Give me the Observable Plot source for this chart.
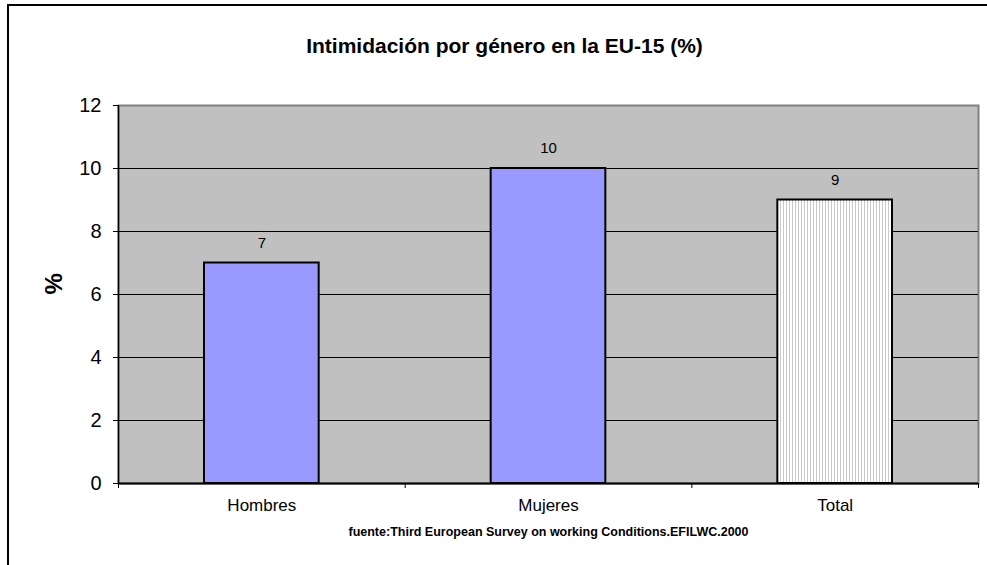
<!DOCTYPE html>
<html>
<head>
<meta charset="utf-8">
<script src="https://cdn.jsdelivr.net/npm/d3@7"></script>
<script src="https://cdn.jsdelivr.net/npm/@observablehq/plot@0.6"></script>
<style>
  html, body { margin: 0; padding: 0; background: white; }
  #wrap { position: relative; width: 987px; height: 565px; overflow: hidden; }
  #wrap svg.plot { position: absolute; left: 0; top: 0; }
  .bt { position: absolute; left: 7px; top: 4px; width: 980px; height: 2px; background: #000; }
  .bl { position: absolute; left: 7px; top: 4px; width: 2px; height: 561px; background: #000; }
</style>
</head>
<body>
<svg width="0" height="0" style="position:absolute">
  <defs>
    <pattern id="stripes" patternUnits="userSpaceOnUse" width="3" height="10">
      <rect width="3" height="10" fill="#ffffff"></rect>
      <rect x="0" width="1" height="10" fill="#c8c8c8"></rect>
    </pattern>
  </defs>
</svg>
<div id="wrap"><div class="bt"></div><div class="bl"></div></div>
<script>
const categories = ["Hombres", "Mujeres", "Total"];
const values = [7, 10, 9];
const yTicks = [0, 2, 4, 6, 8, 10, 12];
const title = "Intimidación por género en la EU-15 (%)";
const yLabel = "%";
const source = "fuente:Third European Survey on working Conditions.EFILWC.2000";

const data = categories.map((c, i) => ({cat: c, i, value: values[i]}));
const boundaries = d3.range(categories.length + 1);

const chart = Plot.plot({
  width: 987,
  height: 565,
  marginLeft: 118,
  marginRight: 9,
  marginTop: 105,
  marginBottom: 82,
  style: {fontFamily: "'Liberation Sans', Arial, sans-serif", background: "transparent", color: "black"},
  x: {type: "linear", domain: [0, categories.length], axis: null},
  y: {domain: [0, 12], axis: null},
  marks: [
    Plot.frame({fill: "#c0c0c0", stroke: "#808080", strokeWidth: 2}),
    Plot.ruleY(yTicks.filter(t => t > 0 && t < 12), {stroke: "black", strokeWidth: 1}),
    Plot.rectY(data.filter(d => d.cat !== "Total"), {x1: "i", x2: d => d.i + 1, y: "value", fill: "#9999ff", stroke: "black", strokeWidth: 2, insetLeft: 86, insetRight: 86}),
    Plot.rectY(data.filter(d => d.cat === "Total"), {x1: "i", x2: d => d.i + 1, y: "value", fill: "url(#stripes)", stroke: "black", strokeWidth: 2, insetLeft: 86, insetRight: 86}),
    Plot.ruleX([0], {stroke: "black", strokeWidth: 1.5}),
    Plot.ruleY([0], {stroke: "black", strokeWidth: 2}),
    Plot.axisY({ticks: yTicks, tickSize: 5, tickPadding: 12, fontSize: 20, label: null, tickFormat: d => String(d)}),
    Plot.axisX({ticks: boundaries, tickSize: 5, tickFormat: () => "", label: null}),
    Plot.text(data, {x: d => d.i + 0.5, text: "cat", frameAnchor: "bottom", dy: 27, fontSize: 17}),
    Plot.text(data, {x: d => d.i + 0.5, y: "value", text: d => String(d.value), dy: -20, fontSize: 15}),
    Plot.text([title], {text: d => d, frameAnchor: "top", dy: -67, dx: -44, fontSize: 21, fontWeight: "bold"}),
    Plot.text([source], {text: d => d, frameAnchor: "bottom", dy: 52, fontSize: 12.5, fontWeight: "bold"}),
    Plot.text([yLabel], {text: d => d, frameAnchor: "left", dx: -64, rotate: -90, fontSize: 24, fontWeight: "bold"})
  ]
});
chart.classList.add("plot");
document.getElementById("wrap").appendChild(chart);
</script>
</body>
</html>
